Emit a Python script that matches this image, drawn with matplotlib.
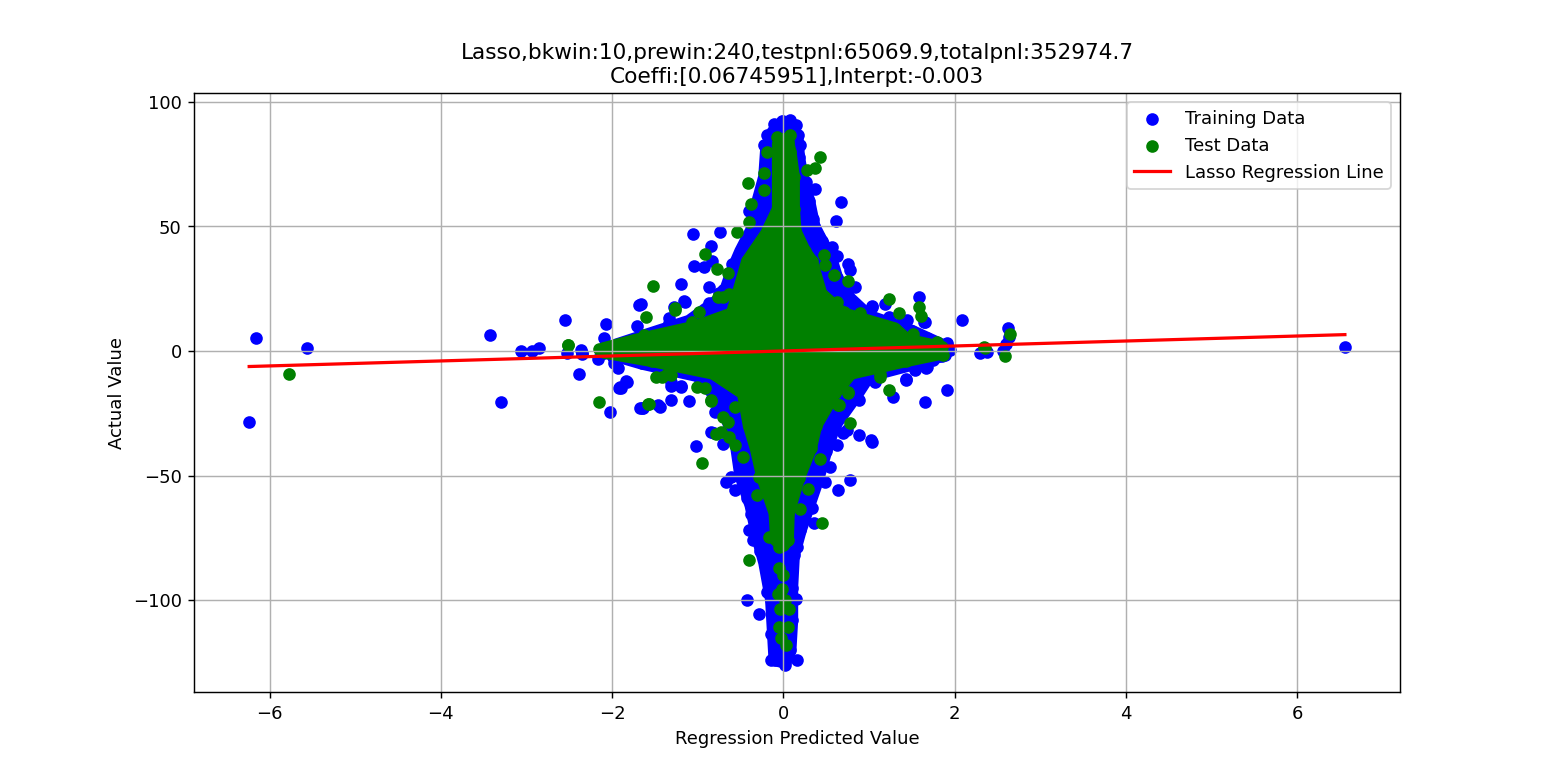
import numpy as np
import matplotlib
matplotlib.use('Agg')
import matplotlib.pyplot as plt

# Values
model_name = 'Lasso'
bkwin = 10
prewin = 240
testpnl = 65069.9
totalpnl = 352974.7
coeffi = [0.06745951]
interpt = -0.003

# training points that stand out of the dense cloud (predicted, actual)
train_pts = [
    (-6.16, 5.1), (-6.24, -28.6), (-5.56, 1.1), (-3.43, 6.4), (-3.30, -20.4), (-3.06, -0.1), (-2.94, 0.0),
    (-2.85, 1.1), (-2.55, 12.4), (-2.53, -0.9), (-2.35, -0.9), (-2.39, -9.2), (-2.17, -3.2), (-2.02, -24.4),
    (-2.10, 5.1), (-2.07, 10.8), (-1.92, -15.0), (-1.84, -12.0), (-1.93, -7.0), (-1.98, -5.0), (-1.69, 18.5),
    (-1.71, 10.2), (-1.68, -22.8), (-2.35, -1.2), (-2.36, 0.4), (-1.99, -2.5), (-1.83, -12.5), (-1.91, -14.6),
    (-1.64, -22.7), (-1.44, -22.4), (-1.31, -19.7), (-1.31, -14.2), (-1.19, -14.5), (-1.10, -19.9),
    (-0.80, -24.4), (-1.20, -14.0), (-1.31, -12.3), (-1.50, -2.5), (-1.33, -3.8), (-1.66, 18.9), (-1.20, 26.8),
    (-0.87, 25.6), (-1.15, 19.8), (-1.33, 11.4), (-0.87, 19.1), (-1.28, 17.8), (-1.16, 19.9), (-1.34, 13.3),
    (-1.05, 47.0), (-0.74, 47.6), (-0.84, 42.3), (-1.04, 34.0), (-0.93, 33.6), (-0.60, 35.0), (-0.83, 36.0),
    (-0.75, 23.3), (-0.71, 24.6), (-0.40, 56.0), (-0.37, 51.5), (-0.23, 82.8), (-0.19, 86.8), (-0.19, 76.0),
    (-0.11, 91.0), (-0.015, 92.1), (0.08, 92.5), (0.17, 86.8), (0.19, 82.8), (0.15, 90.8), (0.37, 65.0),
    (0.27, 68.0), (0.29, 58.0), (0.35, 52.8), (0.67, 59.7), (0.62, 52.2), (0.42, 45.6), (0.57, 41.6),
    (0.63, 38.3), (0.76, 35.0), (0.84, 25.8), (0.78, 32.5), (0.30, 51.6), (1.03, 17.8), (1.19, 18.9),
    (1.23, 12.7), (1.36, 10.8), (1.58, 21.6), (1.66, 11.8), (2.09, 12.4), (1.45, 12.4), (1.58, 5.7),
    (1.68, 5.1), (1.91, 3.1), (1.91, 2.4), (1.89, -1.6), (2.30, -0.9), (2.38, -0.5), (2.62, 9.1), (2.64, 5.7),
    (2.60, 2.8), (2.57, 0.0), (1.37, 10.4), (1.35, 5.7), (1.23, 13.8), (1.64, 11.8), (1.67, 4.4),
    (1.67, -7.0), (1.54, -7.6), (1.43, -11.2), (1.28, -18.6), (1.07, -12.3), (1.91, -15.7), (1.66, -20.4),
    (1.43, -11.6), (1.68, -6.3), (0.90, -13.7), (0.88, -19.7), (1.02, -35.7), (0.74, -31.7), (0.55, -29.0),
    (0.88, -33.7), (1.03, -36.4), (1.03, 18.1), (6.56, 1.7), (0.70, -33.0), (0.63, -37.7), (0.78, -51.8),
    (0.64, -55.8), (0.49, -52.4), (0.55, -46.4), (0.34, -63.2), (0.36, -69.1), (0.16, -78.8), (0.08, -88.1),
    (0.04, -92.0), (0.15, -99.5), (0.16, -123.9), (0.02, -126.1), (-0.15, -124.1), (-0.11, -116.0),
    (-0.15, -113.4), (-0.11, -109.4), (-0.29, -105.4), (-0.42, -100.0), (-0.19, -96.7), (0.08, -106.7),
    (-0.40, -71.8), (-0.35, -76.0), (-0.27, -80.2), (-0.38, -65.5), (-0.56, -55.8), (-0.67, -52.4),
    (-0.61, -50.5), (-0.42, -58.9), (-1.02, -38.3), (-0.85, -32.5), (-0.70, -37.2), (-0.49, -45.8),
    (-1.90, -15.0), (-0.81, -32.8), (-1.65, -22.7), (-1.47, -21.7), (-2.10, -1.0), (-1.80, 3.0),
    (1.95, 0.5), (1.75, -3.5),
]

# test points that stand out of the dense cloud
test_pts = [
    (-5.77, -9.4), (-2.52, 2.4), (-2.15, 0.8), (-2.15, -20.6), (-2.51, 2.3), (-1.52, 26.1), (-1.61, 13.5),
    (-1.26, 16.5), (-1.07, 11.8), (-0.98, 15.5), (-0.70, 21.8), (-1.58, -21.3), (-1.42, -10.6), (-1.31, -9.6),
    (-1.01, -14.3), (-0.91, -15.0), (-0.84, -19.7), (-0.57, -22.4), (-0.65, -28.4), (-0.79, -33.4),
    (-1.54, -3.6), (-1.20, -5.6), (-1.63, 6.4), (-1.42, 4.4), (-1.24, 5.3), (-1.49, -10.4), (-1.36, -9.1),
    (-0.92, 39.0), (-0.77, 33.0), (-0.65, 31.4), (-0.76, 21.8), (-0.63, 22.7), (-1.26, 17.3), (-0.41, 67.4),
    (-0.23, 64.8), (-0.38, 59.0), (-0.40, 51.7), (-0.54, 47.6), (-0.23, 71.3), (-0.19, 80.0), (-0.07, 86.0),
    (0.08, 86.7), (0.43, 77.9), (0.37, 73.6), (0.28, 72.7), (0.76, 28.0), (0.59, 30.5), (0.49, 34.5),
    (0.48, 38.4), (0.63, 19.8), (0.71, 15.8), (0.89, 15.1), (1.24, 20.8), (1.35, 15.1), (1.58, 17.8),
    (1.61, 14.2), (1.52, 6.8), (1.35, 5.1), (1.80, 3.7), (1.68, -0.3), (1.87, -1.6), (2.34, 1.5), (2.35, 1.3),
    (2.65, 6.7), (2.59, -2.1), (1.79, 3.3), (1.23, -15.7), (1.13, -9.4), (0.96, -6.3), (0.76, -16.3),
    (0.65, -21.7), (0.78, -29.0), (1.13, -10.3), (0.45, -69.2), (-0.95, -44.8), (-1.57, -21.3), (-0.84, -20.1),
    (0.64, -21.7), (0.76, -17.0), (0.43, -43.2), (0.29, -55.3), (0.19, -63.3), (-0.71, -26.5), (-0.73, -32.5),
    (-0.63, -34.5), (-0.56, -37.9), (-0.47, -42.5), (-0.31, -57.9), (-0.17, -74.6), (-0.28, -50.5),
    (-0.05, -78.8), (-0.40, -84.0), (-0.05, -87.3), (-0.01, -95.4), (-0.06, -97.4), (0.07, -103.4),
    (-0.04, -103.4), (0.06, -110.7), (-0.05, -110.7), (0.03, -118.0), (0.00, -90.0), (0.02, -100.0),
    (-0.03, -115.0),
]

# outline of the solid (overplotted) part of each cloud, point centres on its edge
train_core_x = [0.00, 0.07, 0.16, 0.18, 0.22, 0.30, 0.36, 0.45, 0.55, 0.62, 0.75, 1.00, 1.50, 1.85, 1.85,
                1.55, 1.00, 0.85, 0.60, 0.50, 0.40, 0.30, 0.20, 0.12, 0.10, 0.10, 0.08, 0.02, -0.10, -0.12,
                -0.14, -0.22, -0.30, -0.38, -0.50, -0.55, -0.65, -0.80, -1.00, -1.65, -2.00, -1.95, -1.55,
                -1.10, -0.70, -0.60, -0.50, -0.35, -0.30, -0.22, -0.20, -0.12]
train_core_y = [92, 91.5, 86, 78, 70, 60, 50, 44, 38, 30, 22, 14, 8, 2.5, -2,
                -5, -10, -18, -30, -40, -52, -62, -72, -82, -95, -108, -120, -125, -124, -112,
                -100, -85, -75, -62, -50, -38, -28, -18, -10, -5, -1.5, 2.5, 7,
                12, 22, 32, 40, 50, 60, 70, 80, 88]

test_core_x = [0.00, 0.05, 0.08, 0.12, 0.12, 0.14, 0.25, 0.33, 0.44, 0.70, 1.30, 1.45, 1.85, 1.85, 1.43,
               0.79, 0.60, 0.38, 0.32, 0.18, 0.06, 0.05, 0.00, -0.08, -0.10, -0.24, -0.32, -0.40, -0.47,
               -0.82, -1.53, -2.10, -2.10, -1.72, -1.02, -0.60, -0.53, -0.42, -0.20, -0.06, -0.06, -0.06]
test_core_y = [85, 84, 80, 70, 57, 48, 40, 36, 23, 15, 9, 4.4, 1.5, -1, -4,
               -9, -17, -30, -39, -51, -65, -76, -78, -76, -65, -51, -39, -30, -17,
               -9, -4, -0.5, 1, 4.4, 9.8, 15, 23, 36, 47, 57, 70, 83]

train_x = np.array([p[0] for p in train_pts] + train_core_x)
train_y = np.array([p[1] for p in train_pts] + train_core_y)
test_x = np.array([p[0] for p in test_pts] + test_core_x)
test_y = np.array([p[1] for p in test_pts] + test_core_y)

fig = plt.figure(figsize=(12, 6.004), dpi=129.6)
ax = fig.add_subplot(111)

# the overplotted core: outline drawn as thick as one marker so its edge is rounded like the dots
ax.fill(train_core_x, train_core_y, color='blue', linewidth=7, joinstyle='round')
ax.scatter(train_x, train_y, color='blue', label='Training Data')
ax.fill(test_core_x, test_core_y, color='green', linewidth=7, joinstyle='round')
ax.scatter(test_x, test_y, color='green', label='Test Data')

# regression line over the range of predictions
line_x = np.array([train_x.min(), train_x.max()])
ax.plot(line_x, line_x, color='red', linewidth=1.8, label=f'{model_name} Regression Line')

ax.set_title(f'{model_name},bkwin:{bkwin},prewin:{prewin},testpnl:{testpnl},totalpnl:{totalpnl}\n'
             f'Coeffi:{coeffi},Interpt:{interpt}')
ax.set_xlabel('Regression Predicted Value')
ax.set_ylabel('Actual Value')
ax.legend(loc='upper right')
ax.grid(True)

fig.savefig('out.png', dpi=129.6)
